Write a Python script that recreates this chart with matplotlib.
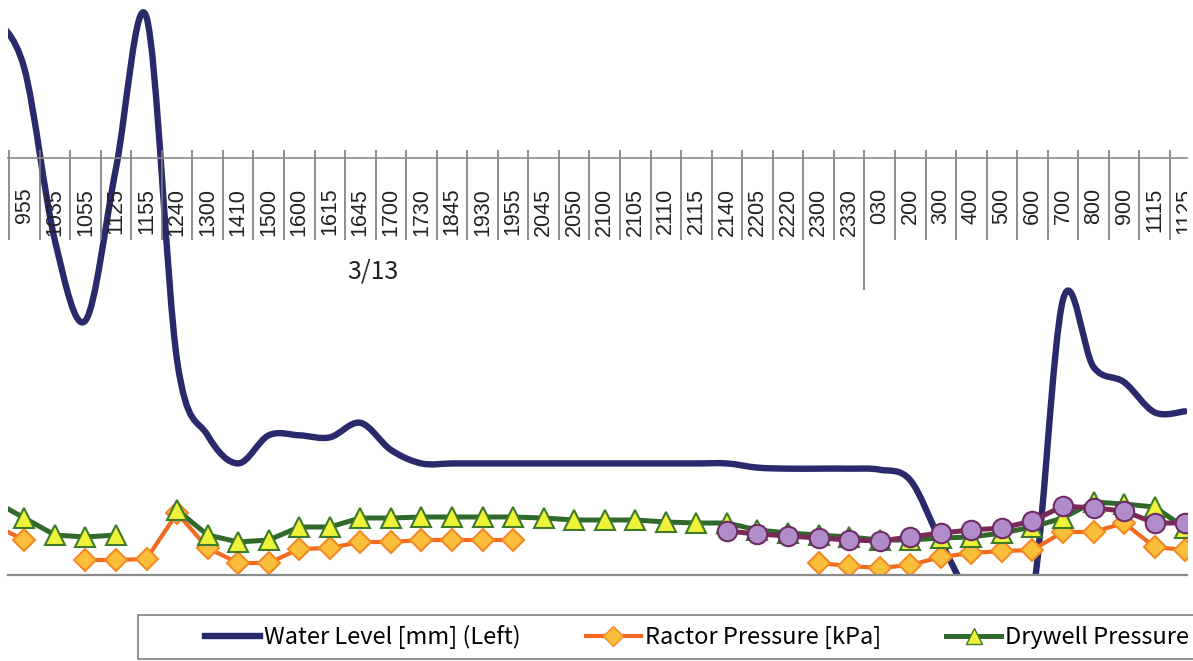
import numpy as np
import matplotlib.pyplot as plt
from matplotlib.path import Path
from matplotlib.patches import PathPatch, Rectangle
from matplotlib.lines import Line2D

# category labels (first slot is cut off at the left edge of the picture)
times = ["", "955", "1035", "1055", "1125", "1155", "1240", "1300", "1410",
         "1500", "1600", "1615", "1645", "1700", "1730", "1845", "1930",
         "1955", "2045", "2050", "2100", "2105", "2110", "2115", "2140",
         "2205", "2220", "2300", "2330", "030", "200", "300", "400", "500",
         "600", "700", "800", "900", "1115", "1125"]

# water level [mm] (left axis)
water_level = [1360, 860, -790, -1560, -100, 1350, -1940, -2660, -2930,
               -2660, -2660, -2680, -2540, -2800, -2930, -2930, -2930,
               -2930, -2930, -2930, -2930, -2930, -2930, -2930, -2930,
               -2970, -2980, -2980, -2980, -2990, -3090, -3680, -4200,
               -4200, -4200, -1360, -2005, -2150, -2440, -2430]

nan = np.nan
# reactor pressure [kPa] (right axis)
reactor_pressure = [1000, 700, nan, 300, 300, 320, 1240, 540, 240, 240,
                    520, 540, 660, 660, 700, 700, 700, 700, nan, nan, nan,
                    nan, nan, nan, nan, nan, nan, 240, 180, 140, 200, 360,
                    440, 480, 500, 860, 860, 1040, 560, 500]

# drywell pressure [kPa] (right axis)
drywell_pressure = [1480, 1140, 800, 760, 800, nan, 1300, 800, 660, 700,
                    960, 960, 1140, 1140, 1160, 1160, 1160, 1160, 1140,
                    1100, 1100, 1100, 1060, 1040, 1040, 900, 840, 800, 760,
                    700, 700, 740, 760, 840, 960, 1140, 1460, 1420, 1360,
                    940]

# fourth series (circles), its legend entry is outside the picture
pressure_4 = [nan] * 24 + [880, 820, 780, 740, 700, 680, 760, 840, 900,
                           940, 1080, 1380, 1340, 1280, 1040, 1040]

W, H = 1193, 661
fig = plt.figure(figsize=(W / 100, H / 100), dpi=100)
ax = fig.add_axes([8 / W, 86 / H, 1179 / W, 575 / H])
x = np.arange(len(times)) - 1

ax.set_xlim(-0.534, 38.06)
ax.set_ylim(-4000, 1515)


def smooth_path(xs, ys):
    # Excel-style smoothed line drawn as cubic Bezier segments
    pts = np.column_stack([xs, ys]).astype(float)
    n = len(pts)
    verts = [pts[0]]
    codes = [Path.MOVETO]
    for i in range(n - 1):
        p0 = pts[max(i - 1, 0)]
        p1 = pts[i]
        p2 = pts[i + 1]
        p3 = pts[min(i + 2, n - 1)]
        c1 = p1 + (p2 - p0) / 6
        c2 = p2 - (p3 - p1) / 6
        verts += [c1, c2, p2]
        codes += [Path.CURVE4] * 3
    return Path(verts, codes)


water_color = "#29296b"
ax.add_patch(PathPatch(smooth_path(x, water_level), facecolor="none",
                       edgecolor=water_color, lw=4.6, capstyle="round",
                       joinstyle="round"))

# category axis crossing at zero water level
for s in ["top", "left", "right"]:
    ax.spines[s].set_visible(False)
ax.spines["bottom"].set_position(("data", 0))
ax.spines["bottom"].set_color("#8a8a8a")
ax.spines["bottom"].set_linewidth(1.2)
ax.set_yticks([])
ax.set_xticks(x[1:])
ax.set_xticklabels(times[1:], rotation=90, fontsize=15.5,
                   family="Liberation Sans", color="#222222")
ax.tick_params(axis="x", length=0, pad=21.5)
for lbl in ax.get_xticklabels():
    lbl.set_clip_box(ax.bbox)
    lbl.set_clip_on(True)

bounds = np.arange(-1, 38) + 0.5
trans = ax.get_xaxis_transform()
ax.vlines(bounds, 0.5826, 0.7391, transform=trans, color="#7a7a7a", lw=1.2)
ax.vlines([27.5], 0.4957, 0.5826, transform=trans, color="#7a7a7a", lw=1.2)
ax.text(11.4, -1093, "3/13", ha="center", va="center", fontsize=18,
        family="Noto Sans CJK JP", color="#222222")

# pressures on the right axis
ax2 = ax.twinx()
ax2.set_ylim(0, 11500)
ax2.set_yticks([])
for s in ["top", "left", "right"]:
    ax2.spines[s].set_visible(False)
ax2.spines["bottom"].set_color("#8a8a8a")
ax2.spines["bottom"].set_linewidth(1.6)

orange_line, orange_face = "#f26a22", "#f9bf3b"
green_line, green_face = "#2f6a2c", "#eef238"
purple_line, purple_face = "#7b2a57", "#b08ccb"

ax2.plot(x, reactor_pressure, color=orange_line, lw=3, marker="D", ms=11,
         mfc=orange_face, mec="#f58a25", mew=1.5)
ax2.plot(x, drywell_pressure, color=green_line, lw=3.6, marker="^", ms=15,
         mfc=green_face, mec="#3d7a2a", mew=1.5)
ax2.plot(x, pressure_4, color=purple_line, lw=3.6, marker="o", ms=14,
         mfc=purple_face, mec="#6e2c63", mew=1.5)

# legend: frame runs past the right edge of the picture
fig.patches.append(Rectangle((138 / W, 2 / H), 1100 / W, 44 / H,
                             transform=fig.transFigure, facecolor="white",
                             edgecolor="#808080", lw=1.2))
handles = [
    Line2D([], [], color=water_color, lw=4.6),
    Line2D([], [], color=orange_line, lw=3, marker="D", ms=10,
           mfc=orange_face, mec="#f58a25"),
    Line2D([], [], color=green_line, lw=3.6, marker="^", ms=12,
           mfc=green_face, mec="#3d7a2a"),
]
labels = ["Water Level [mm] (Left)", "Ractor Pressure [kPa]",
          "Drywell Pressure [kPa]"]
fig.legend(handles, labels, loc="center left",
           bbox_to_anchor=(205 / W, 1 - 637 / H), ncol=3, frameon=False,
           prop={"family": "Noto Sans CJK JP", "size": 17},
           handlelength=2.35, handletextpad=0.15, columnspacing=2.75,
           borderaxespad=0, borderpad=0)

fig.savefig("out.png", dpi=100)
